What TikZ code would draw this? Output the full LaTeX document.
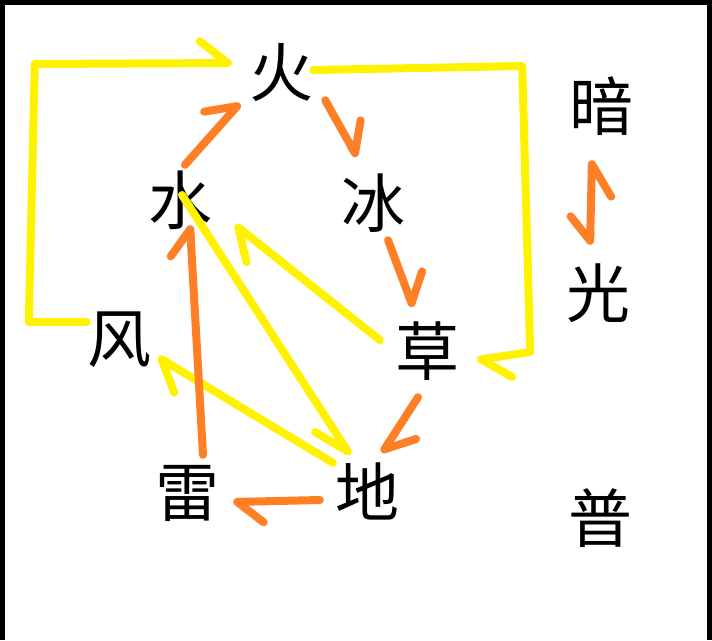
\documentclass[tikz,border=0pt]{standalone}
\usepackage{fontspec}
\usepackage{tikz}
\usetikzlibrary{arrows.meta}
\newfontfamily\cjk{Noto Sans CJK SC}

\definecolor{yel}{RGB}{255,242,0}
\definecolor{ora}{RGB}{255,127,39}

\tikzset{
  elem/.style={font=\cjk\fontsize{64}{64}\selectfont, inner sep=0pt, minimum size=64pt},
  hand/.style={line width=8pt, line cap=round, line join=round},
  ya/.style={hand, draw=yel, -{Straight Barb[harpoon,round,length=28pt,width=44pt]}},
  oa/.style={hand, draw=ora, -{Straight Barb[harpoon,round,length=26pt,width=42pt]}},
  sw/.style={-{Straight Barb[harpoon,swap,round,length=34pt,width=34pt]}}
}

\begin{document}
\begin{tikzpicture}[x=1pt,y=1pt]

\useasboundingbox (0,0) rectangle (712,-640);
\fill[white] (0,0) rectangle (712,-640);
\fill (0,0) rectangle (712,-5);
\fill (0,0) rectangle (5,-640);
\fill (707,0) rectangle (712,-640);

\foreach \n/\x/\y/\t in {huo/281/-73/火, shui/180/-200/水, bing/373/-203/冰,
    feng/119/-340/风, cao/427/-351/草, lei/187/-493/雷, di/367/-491/地,
    an/601/-106/暗, guang/598/-293/光, pu/600/-518/普}
    \node[elem] (\n) at (\x,\y) {\t};

% yellow
\draw[ya] ([yshift=18pt]feng.west) -- ++(-58,0) -- ++(6,258) -- ([xshift=-17pt,yshift=10pt]huo.west);
\draw[ya] ([yshift=3pt]huo.east) -- ++(209,4) -- ++(8,-286) -- ([xshift=18pt,yshift=-9pt]cao.east);
\draw[ya] ([xshift=-15pt,yshift=11pt]cao.west) -- ([xshift=23pt,yshift=-25pt]shui.east);
\draw[ya,sw] ([xshift=2pt,yshift=5pt]shui.center) -- ([xshift=-17pt,yshift=4pt]di.north);
\draw[ya] ([xshift=-2pt,yshift=-4pt]di.north west) -- ([xshift=7pt,yshift=15pt]feng.south east);

% orange
\draw[oa] ([xshift=5pt,yshift=3pt]shui.north) -- ([xshift=-9pt,yshift=2pt]huo.south west);
\draw[oa] ([xshift=12pt,yshift=5pt]huo.south east) -- ([xshift=-16pt,yshift=14pt]bing.north);
\draw[oa] ([xshift=15pt,yshift=-5pt]bing.south) -- ([xshift=-14pt,yshift=12pt]cao.north);
\draw[oa] ([xshift=-9pt,yshift=-14pt]cao.south) -- ([xshift=-17pt,yshift=6pt]di.north east);
\draw[oa] ([xshift=-15pt,yshift=-9pt]di.west) -- ([xshift=14pt,yshift=-9pt]lei.east);
\draw[oa] ([xshift=16pt,yshift=6pt]lei.north) -- ([xshift=10pt,yshift=7pt]shui.south);
\draw[hand, draw=ora, {Straight Barb[harpoon,swap,round,length=32pt,width=40pt]}-{Straight Barb[harpoon,swap,round,length=24pt,width=40pt]}]
    ([xshift=-9pt,yshift=-22pt]an.south) -- ([xshift=-8pt,yshift=16pt]guang.north);

\end{tikzpicture}
\end{document}
